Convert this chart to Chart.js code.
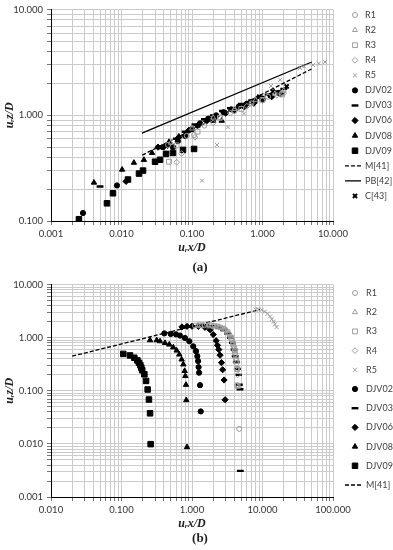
<!DOCTYPE html>
<html><head><meta charset="utf-8">
<script src="https://cdn.jsdelivr.net/npm/chart.js@4.4.1/dist/chart.umd.min.js"></script>
<style>
html,body{margin:0;padding:0;background:#fff;}
#wrap{position:relative;width:393px;height:550px;overflow:hidden;}
.box{position:absolute;left:0;width:393px;height:275px;}
.cap{position:absolute;font:bold 13px/13px 'Liberation Serif',serif;color:#222;width:40px;text-align:center;}
</style></head><body>
<div id="wrap">
<div class="box" style="top:0"><canvas id="ca" width="393" height="275"></canvas></div>
<div class="box" style="top:275px"><canvas id="cb" width="393" height="275"></canvas></div>
<div class="cap" style="left:180px;top:260px">(a)</div>
<div class="cap" style="left:180px;top:531px">(b)</div>
</div>
<script>
// ---------- Chart (a) data ----------
const a_R1 = [[0.0457,0.525],[0.0842,0.64],[0.107,0.65],[0.15,0.8],[0.25,0.95],[0.4,1.1],[0.7,1.3],[1.2,1.5],[1.9,1.62]];
const a_R2 = [[0.05,0.55],[0.1,0.75],[0.2,0.95],[0.4,1.15],[0.8,1.4],[1.5,1.6],[2.0,1.72]];
const a_R3 = [[0.0472,0.364],[0.0607,0.52],[0.12,0.7],[0.25,0.95],[0.5,1.15],[1.0,1.4],[1.9,1.58]];
const a_R4 = [[0.0607,0.36],[0.0714,0.435],[0.11,0.62],[0.2,0.85],[0.35,1.05],[0.6,1.22],[1.0,1.38],[1.6,1.55],[2.0,1.62]];
const a_R5 = [[0.139,0.241],[0.226,0.525],[0.324,0.77],[0.547,1.04],[0.71,1.27],[1.32,1.9],[1.78,2.17],[3.4,2.8],[3.9,2.9],[5.2,3.0],[6.3,3.1],[7.7,3.2]];
const a_DJV02 = [[0.00284,0.119],[0.00863,0.217],[0.0388,0.5],[0.0537,0.5],[0.063,0.57],[0.08,0.64],[0.1,0.74],[0.13,0.84],[0.17,0.93],[0.22,1.0],[0.28,1.07],[0.36,1.14],[0.46,1.21],[0.6,1.29],[0.78,1.37],[1.0,1.44],[1.3,1.53],[1.7,1.63]];
const a_DJV03 = [[0.00496,0.212],[0.035,0.49],[0.045,0.53],[0.06,0.6],[0.08,0.7],[0.11,0.82],[0.15,0.92],[0.2,1.0],[0.27,1.1],[0.35,1.17],[0.5,1.28],[0.7,1.38],[0.9,1.47],[1.2,1.57],[1.6,1.68],[2.0,1.78]];
const a_DJV06 = [[0.0116,0.237],[0.033,0.5],[0.045,0.52],[0.065,0.62],[0.09,0.72],[0.12,0.8],[0.16,0.88],[0.21,0.95],[0.3,1.05],[0.4,1.12],[0.55,1.2],[0.75,1.3],[1.0,1.4],[1.35,1.5],[1.8,1.6]];
const a_DJV08 = [[0.00407,0.231],[0.0102,0.306],[0.015,0.356],[0.0208,0.379],[0.0271,0.441],[0.0472,0.56],[0.065,0.63],[0.09,0.72],[0.12,0.8],[0.2,0.89],[0.264,0.89]];
const a_DJV09 = [[0.00249,0.104],[0.00622,0.147],[0.00757,0.183],[0.01236,0.247],[0.0177,0.281],[0.0202,0.3],[0.0299,0.364],[0.0352,0.38],[0.0428,0.432],[0.0537,0.441],[0.0745,0.471],[0.107,0.481]];
const a_M41 = [[0.0197,0.42],[5.09,2.77]];
const a_PB42 = [[0.0195,0.68],[5.0,3.2]];
const a_C43 = [[0.9,1.5],[1.4,1.68],[2.2,1.88]];

// ---------- Chart (b) data ----------
const b_R1 = [[1.1,1.7],[1.5,1.72],[2.0,1.68],[2.5,1.58],[3.0,1.4],[3.4,1.15],[3.7,0.9],[3.95,0.65],[4.1,0.48],[4.3,0.26],[4.35,0.128],[4.68,0.0192]];
const b_R2 = [[1.2,1.72],[1.7,1.72],[2.2,1.65],[2.7,1.52],[3.1,1.32],[3.5,1.05],[3.8,0.8],[4.0,0.58],[4.2,0.4],[4.4,0.25],[4.5,0.12]];
const b_R3 = [[1.3,1.72],[1.8,1.71],[2.3,1.63],[2.8,1.48],[3.2,1.27],[3.6,1.0],[3.85,0.75],[4.05,0.55],[4.25,0.37],[4.35,0.26],[4.45,0.125]];
const b_R4 = [[1.4,1.72],[1.9,1.7],[2.4,1.6],[2.9,1.45],[3.3,1.2],[3.65,0.95],[3.9,0.7],[4.1,0.5],[4.3,0.33],[4.45,0.2]];
const b_R5 = [[8.0,3.4],[8.73,3.45],[9.73,3.37],[10.8,3.12],[11.8,2.83],[12.8,2.52],[13.5,2.25],[14.4,2.01],[15.0,1.79],[15.8,1.59]];
const b_DJV02 = [[0.405,1.21],[0.499,1.18],[0.593,1.16],[0.676,1.1],[0.795,0.99],[0.916,0.86],[1.04,0.69],[1.14,0.56],[1.19,0.45],[1.22,0.364],[1.24,0.28],[1.26,0.22],[1.3,0.128],[1.33,0.041]];
const b_DJV03 = [[1.0,1.66],[1.3,1.7],[1.6,1.7],[2.0,1.65],[2.4,1.55],[2.8,1.4],[3.2,1.2],[3.5,1.0],[3.75,0.8],[3.95,0.6],[4.1,0.45],[4.25,0.35],[4.4,0.26],[4.55,0.2],[4.7,0.13],[4.8,0.107],[4.85,0.0031]];
const b_DJV06 = [[0.72,1.6],[0.85,1.64],[1.0,1.65],[1.23,1.64],[1.53,1.57],[1.8,1.42],[2.0,1.15],[2.2,0.88],[2.3,0.72],[2.4,0.6],[2.5,0.47],[2.62,0.34],[2.72,0.25],[2.85,0.16],[2.95,0.068]];
const b_DJV08 = [[0.254,0.9],[0.316,0.9],[0.352,0.86],[0.414,0.8],[0.476,0.746],[0.543,0.66],[0.606,0.575],[0.661,0.484],[0.713,0.39],[0.753,0.315],[0.787,0.237],[0.804,0.19],[0.822,0.13],[0.83,0.067],[0.849,0.0087]];
const b_DJV09 = [[0.106,0.497],[0.132,0.465],[0.152,0.42],[0.168,0.375],[0.177,0.338],[0.185,0.306],[0.191,0.273],[0.197,0.244],[0.211,0.205],[0.223,0.154],[0.235,0.106],[0.245,0.0687],[0.254,0.0377],[0.259,0.0099]];
const b_M41 = [[0.02,0.45],[9.2,3.4]];

// axis ranges and titles
const a_xRange = [0.001, 10], a_yRange = [0.1, 10];
const b_xRange = [0.01, 100], b_yRange = [0.001, 10];
const xTitle = 'u\u1D63x/D', yTitle = 'u\u1D63z/D';

// ---------- helpers ----------
const GRAY = '#9c9c9c', BLACK = '#000';
function pts(arr){ return arr.map(p => ({x:p[0], y:p[1]})); }
function logTicks(min, max){
  const t = [];
  const e0 = Math.round(Math.log10(min)), e1 = Math.round(Math.log10(max));
  for (let e = e0; e < e1; e++) for (let m = 1; m < 10; m++) t.push({value: parseFloat((m*Math.pow(10,e)).toPrecision(6))});
  t.push({value: max});
  return t;
}
function lbl(v){ const l = Math.log10(v); return Math.abs(l - Math.round(l)) < 1e-6 ? Number(v).toFixed(3) : ''; }

const styles = {
  R1:{pointStyle:'circle', r:2.5, fill:'rgba(0,0,0,0)', col:GRAY, bw:1},
  R2:{pointStyle:'triangle', r:2.9, fill:'rgba(0,0,0,0)', col:GRAY, bw:1},
  R3:{pointStyle:'rect', r:3.4, fill:'rgba(0,0,0,0)', col:GRAY, bw:1},
  R4:{pointStyle:'rectRot', r:2.9, fill:'rgba(0,0,0,0)', col:GRAY, bw:1},
  R5:{pointStyle:'crossRot', r:2.9, fill:GRAY, col:GRAY, bw:1},
  DJV02:{pointStyle:'circle', r:2.6, fill:BLACK, col:BLACK, bw:1},
  DJV03:{pointStyle:'line', r:3.4, fill:BLACK, col:BLACK, bw:2.4},
  DJV06:{pointStyle:'rectRot', r:3.1, fill:BLACK, col:BLACK, bw:1},
  DJV08:{pointStyle:'triangle', r:3.1, fill:BLACK, col:BLACK, bw:1},
  DJV09:{pointStyle:'rect', r:3.9, fill:BLACK, col:BLACK, bw:1},
  C43:{pointStyle:'crossRot', r:2.9, fill:BLACK, col:BLACK, bw:2}
};
function sc(label, data, key){
  const s = styles[key];
  return {label, data: pts(data), showLine:false, pointStyle:s.pointStyle, pointRadius:s.r,
    pointBackgroundColor:s.fill, pointBorderColor:s.col, pointBorderWidth:s.bw, borderColor:s.col, backgroundColor:s.fill};
}
function ln(label, data, dash){
  return {label, data: pts(data), showLine:true, pointRadius:0, borderColor:BLACK, borderWidth:1.3,
    borderDash: dash, isLine:true, fill:false};
}

const legendPlugin = {
  id:'sideLegend',
  afterDraw(chart, args, opts){
    const ctx = chart.ctx;
    ctx.save();
    chart.data.datasets.forEach((ds, i) => {
      const y = opts.y0 + i*opts.dy;
      if (ds.isLine){
        ctx.strokeStyle = BLACK; ctx.lineWidth = 1.3; ctx.setLineDash(ds.borderDash || []);
        ctx.beginPath(); ctx.moveTo(345, y); ctx.lineTo(361, y); ctx.stroke(); ctx.setLineDash([]);
      } else {
        ctx.fillStyle = ds.pointBackgroundColor; ctx.strokeStyle = ds.pointBorderColor; ctx.lineWidth = ds.pointBorderWidth;
        Chart.helpers.drawPoint(ctx, {pointStyle: ds.pointStyle, radius: ds.pointRadius, borderWidth: ds.pointBorderWidth, rotation:0}, 355, y);
      }
      ctx.fillStyle = '#404040'; ctx.font = '9px Lato, sans-serif'; ctx.textBaseline = 'middle'; ctx.textAlign = 'left';
      ctx.fillText(ds.label, opts.tx, y);
    });
    ctx.restore();
  }
};

function axis(range, title, isY){
  return {
    type:'logarithmic', min:range[0], max:range[1], position: isY ? 'left' : 'bottom',
    afterBuildTicks(s){ s.ticks = logTicks(range[0], range[1]); },
    afterFit(s){ if (isY) s.width = 51; else s.height = 36; },
    ticks:{autoSkip:false, maxRotation:0, minRotation:0, callback:(v)=>lbl(v), color:'#333',
      font:{family:'Lato', size:9.5}, padding: isY ? 4 : 3},
    grid:{color:'#cbcbcb', lineWidth:1, tickLength:4, tickColor:'#777'},
    border:{display:true, color:'#000', width:1},
    title:{display:true, text:title, color:'#222',
      font:{family:'Liberation Serif', size:12, style:'italic', weight:'bold'},
      padding: isY ? {top:3, bottom:0} : {top:0, bottom:2}}
  };
}

function makeChart(id, datasets, xr, yr, pad, leg){
  return new Chart(document.getElementById(id), {
    type:'scatter',
    data:{datasets},
    options:{
      responsive:false, animation:false, devicePixelRatio:1,
      layout:{padding:pad},
      plugins:{legend:{display:false}, tooltip:{enabled:false}, sideLegend:leg},
      scales:{x: axis(xr, xTitle, false), y: axis(yr, yTitle, true)}
    },
    plugins:[legendPlugin]
  });
}

makeChart('ca', [
  sc('R1', a_R1, 'R1'), sc('R2', a_R2, 'R2'), sc('R3', a_R3, 'R3'), sc('R4', a_R4, 'R4'), sc('R5', a_R5, 'R5'),
  sc('DJV02', a_DJV02, 'DJV02'), sc('DJV03', a_DJV03, 'DJV03'), sc('DJV06', a_DJV06, 'DJV06'),
  sc('DJV08', a_DJV08, 'DJV08'), sc('DJV09', a_DJV09, 'DJV09'),
  ln('M[41]', a_M41, [4,2]), ln('PB[42]', a_PB42, []), sc('C[43]', a_C43, 'C43')
], a_xRange, a_yRange, {left:0, right:60, top:6, bottom:18}, {y0:15, dy:15.08, tx:365});

makeChart('cb', [
  sc('R1', b_R1, 'R1'), sc('R2', b_R2, 'R2'), sc('R3', b_R3, 'R3'), sc('R4', b_R4, 'R4'), sc('R5', b_R5, 'R5'),
  sc('DJV02', b_DJV02, 'DJV02'), sc('DJV03', b_DJV03, 'DJV03'), sc('DJV06', b_DJV06, 'DJV06'),
  sc('DJV08', b_DJV08, 'DJV08'), sc('DJV09', b_DJV09, 'DJV09'),
  ln('M[41]', b_M41, [4,2])
], b_xRange, b_yRange, {left:0, right:60, top:8, bottom:17}, {y0:18, dy:19.2, tx:366});
</script>
</body></html>
